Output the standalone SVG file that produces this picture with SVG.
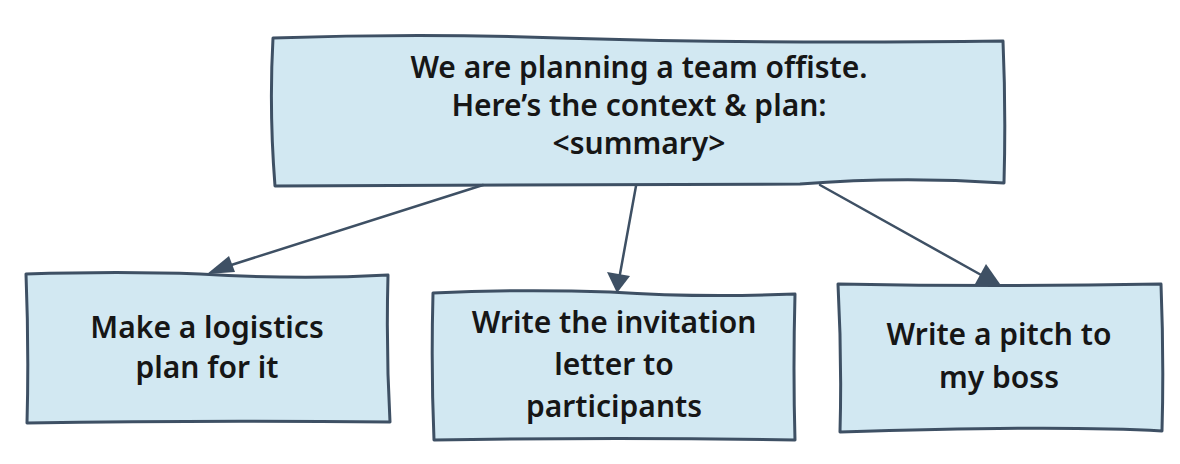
<svg xmlns="http://www.w3.org/2000/svg" width="1180" height="464" viewBox="0 0 1180 464">
<style>
.box{fill:#d2e8f2;stroke:#3e5064;stroke-width:3;stroke-linejoin:round;stroke-linecap:round}
.t{font-family:"Noto Sans","Open Sans",sans-serif;font-size:30px;fill:#161616;text-anchor:middle;font-weight:600}
.c{stroke:#3e5064;stroke-width:2.5;fill:none;stroke-linecap:round}
.h{fill:#3e5064}
</style>
<rect width="1180" height="464" fill="#ffffff"/>
<g id="top">
<path class="box" d="M273,38 Q420,33 560,38 Q760,44 1003,41 Q1006,110 1004,183 Q900,176 800,184 Q540,186 275,186 Q269,110 273,38 Z"/>
<text class="t" x="639" y="78">We are planning a team offiste.</text>
<text class="t" x="639" y="116">Here’s the context &amp; plan:</text>
<text class="t" x="639" y="154">&lt;summary&gt;</text>
</g>
<g id="n1">
<path class="box" d="M26,274 Q120,271 200,274 Q300,280 388,275 Q386,350 390,422 Q200,420 27,423 Q29,350 26,274 Z"/>
<text class="t" x="207" y="338">Make a logistics</text>
<text class="t" x="207" y="378">plan for it</text>
</g>
<g id="n2">
<path class="box" d="M433,293 Q520,289 610,292 Q700,298 795,294 Q793,370 795,440 Q620,437 434,440 Q431,370 433,293 Z"/>
<text class="t" x="614" y="333">Write the invitation</text>
<text class="t" x="614" y="375">letter to</text>
<text class="t" x="614" y="417">participants</text>
</g>
<g id="n3">
<path class="box" d="M838,284 Q1000,287 1161,284 Q1164,360 1162,431 Q1060,425 840,432 Q842,360 838,284 Z"/>
<text class="t" x="999" y="345">Write a pitch to</text>
<text class="t" x="999" y="388">my boss</text>
</g>
<g id="connectors">
<path class="c" d="M483,185 L225,267"/>
<polygon class="h" points="207,274 229,256 235,272"/>
<path class="c" d="M636,186 L620,274"/>
<polygon class="h" points="617,293 607,272 630,276"/>
<path class="c" d="M820,185 L983,276"/>
<polygon class="h" points="1000,284 975,284 986,264"/>
</g>
</svg>
